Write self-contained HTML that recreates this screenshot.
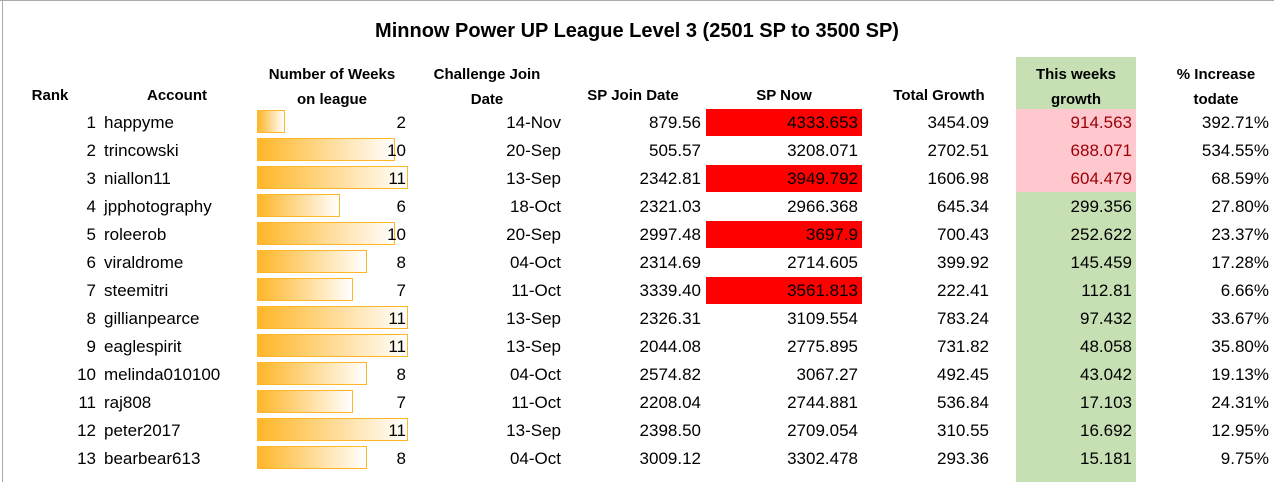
<!DOCTYPE html>
<html><head><meta charset="utf-8"><style>
body{margin:0;width:1274px;height:482px;background:#fff;position:relative;overflow:hidden;font-family:"Liberation Sans",sans-serif;color:#000}
.a{position:absolute;white-space:nowrap}
.h{font-weight:bold;font-size:15px;text-align:center;width:200px}
.c{font-size:17px;height:28px;line-height:28px}
.r{text-align:right}
</style></head><body>
<div class="a" style="left:2px;top:0;width:1px;height:482px;background:#aaa"></div>
<div class="a" style="left:0;top:0;width:1274px;height:1px;background:#aaa"></div>
<div class="a" style="left:0;width:1274px;top:20px;text-align:center;font-weight:bold;font-size:20px">Minnow Power UP League Level 3 (2501 SP to 3500 SP)</div>
<div class="a" style="left:1016px;top:57px;width:120px;height:425px;background:#c6e0b4"></div>
<div class="a" style="left:1016px;top:109px;width:120px;height:83px;background:#ffc7ce"></div>
<div class="a h" style="left:-50px;top:87px">Rank</div>
<div class="a h" style="left:77px;top:87px">Account</div>
<div class="a h" style="left:232px;top:62px;line-height:25px">Number of Weeks<br>on league</div>
<div class="a h" style="left:387px;top:62px;line-height:25px">Challenge Join<br>Date</div>
<div class="a h" style="left:533px;top:87px">SP Join Date</div>
<div class="a h" style="left:684px;top:87px">SP Now</div>
<div class="a h" style="left:839px;top:87px">Total Growth</div>
<div class="a h" style="left:976px;top:62px;line-height:25px">This weeks<br>growth</div>
<div class="a h" style="left:1116px;top:62px;line-height:25px">% Increase<br>todate</div>
<div id="rows"></div>
<script>
const accounts=["happyme","trincowski","niallon11","jpphotography","roleerob","viraldrome","steemitri","gillianpearce","eaglespirit","melinda010100","raj808","peter2017","bearbear613"];
const weeks=[2,10,11,6,10,8,7,11,11,8,7,11,8];
const joinDates=["14-Nov","20-Sep","13-Sep","18-Oct","20-Sep","04-Oct","11-Oct","13-Sep","13-Sep","04-Oct","11-Oct","13-Sep","04-Oct"];
const spJoin=["879.56","505.57","2342.81","2321.03","2997.48","2314.69","3339.40","2326.31","2044.08","2574.82","2208.04","2398.50","3009.12"];
const spNow=["4333.653","3208.071","3949.792","2966.368","3697.9","2714.605","3561.813","3109.554","2775.895","3067.27","2744.881","2709.054","3302.478"];
const redFlag=[1,0,1,0,1,0,1,0,0,0,0,0,0];
const totalGrowth=["3454.09","2702.51","1606.98","645.34","700.43","399.92","222.41","783.24","731.82","492.45","536.84","310.55","293.36"];
const weekGrowth=["914.563","688.071","604.479","299.356","252.622","145.459","112.81","97.432","48.058","43.042","17.103","16.692","15.181"];
const pctInc=["392.71%","534.55%","68.59%","27.80%","23.37%","17.28%","6.66%","33.67%","35.80%","19.13%","24.31%","12.95%","9.75%"];
const root=document.getElementById('rows');
function cell(name,txt,right,top,extra){const d=document.createElement('div');


d.className='a c'+(right!=null?' r':'');d.textContent=txt;
d.style.top=top+'px';
if(right!=null){d.style.right=(1274-right)+'px';}
if(extra)Object.assign(d.style,extra);root.appendChild(d);return d;}
const bx=x=>x*13.75;
accounts.forEach((acc,i)=>{const y=109+i*28;
if(redFlag[i]){const b=document.createElement('div');


b.className='a';Object.assign(b.style,{left:'706px',top:y+'px',width:'156px',height:'27px',background:'#ff0000'});root.appendChild(b);}
const bar=document.createElement('div');


bar.className='a';Object.assign(bar.style,{left:'257px',top:(y+1)+'px',width:bx(weeks[i])+'px',height:'23px',boxSizing:'border-box',border:'1px solid #ffb628',background:'linear-gradient(to right,#ffb628,#fff)'});root.appendChild(bar);
cell('rank-cell',String(i+1),96,y);
cell('account-cell',acc,null,y,{left:'104px'});
cell('weeks-cell',String(weeks[i]),406,y);
cell('challenge-date-cell',joinDates[i],561,y);
cell('sp-join-cell',spJoin[i],701,y);
cell('sp-now-cell',spNow[i],858,y);
cell('total-growth-cell',totalGrowth[i],989,y);
cell('week-growth-cell',weekGrowth[i],1132,y,i<3?{color:'#9c0006'}:null);
cell('increase-cell',pctInc[i],1269,y);
});
</script>
</body></html>
